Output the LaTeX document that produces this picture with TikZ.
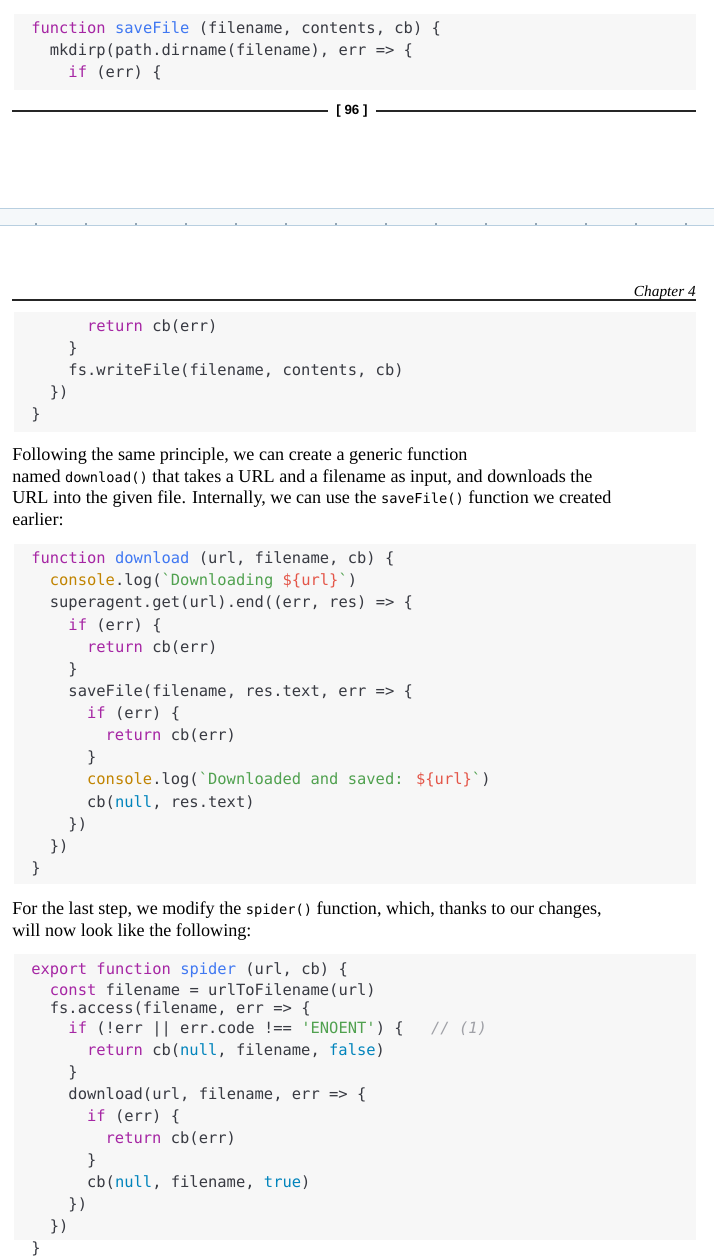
\documentclass[tikz,border=0pt]{standalone}
\usepackage{fontspec}
\setmainfont{Liberation Serif}
\newfontfamily\cf{DejaVu Sans Mono}
\newfontfamily\hf{Liberation Sans}
\definecolor{kw}{HTML}{A626A4}
\definecolor{fn}{HTML}{4078F2}
\definecolor{st}{HTML}{50A14F}
\definecolor{vr}{HTML}{E45649}
\definecolor{cn}{HTML}{C18401}
\definecolor{lt}{HTML}{0184BC}
\definecolor{cm}{HTML}{A0A1A7}
\definecolor{bg}{HTML}{F7F7F7}
\definecolor{tx}{HTML}{383A42}
\definecolor{band}{HTML}{F5F8FA}
\definecolor{bandline}{HTML}{B8CFE0}
\newcommand\K[1]{\textcolor{kw}{#1}}
\newcommand\F[1]{\textcolor{fn}{#1}}
\newcommand\Sg[1]{\textcolor{st}{#1}}
\newcommand\V[1]{\textcolor{vr}{#1}}
\newcommand\Cn[1]{\textcolor{cn}{#1}}
\newcommand\Lt[1]{\textcolor{lt}{#1}}
\newcommand\Cm[1]{\textcolor{cm}{\itshape #1}}
\newcommand\cd[1]{{\cf\fontsize{10.3pt}{12pt}\selectfont #1}}
\newcommand\TQ{\char`\`}
\begin{document}
\begin{tikzpicture}[x=0.75pt,y=-0.75pt,
  code/.style={anchor=base west,inner sep=0pt,text=tx,font=\cf\fontsize{11.6pt}{14pt}\selectfont},
  para/.style={anchor=base west,inner sep=0pt,font=\fontsize{13.6pt}{16pt}\selectfont},
  rule/.style={line width=0.8pt,black!85}]
\useasboundingbox (0,0) rectangle (714,1256);
\newcommand\CL[4]{\node[code] (#1) at ({31+#2*9.3},{#3+5}) {#4};}
% block 1
\fill[bg] (14,14) rectangle (696,90);
\CL{a1}{0}{29}{\K{function} \F{saveFile} (filename, contents, cb) \{}
\CL{a2}{2}{51}{mkdirp(path.dirname(filename), err => \{}
\CL{a3}{4}{73}{\K{if} (err) \{}
% footer
\node[inner sep=0pt,font=\hf\bfseries\fontsize{10pt}{12pt}\selectfont] (pg) at (352,111) {[ 96 ]};
\draw[rule] (12,111) -- ([xshift=-6]pg.west);
\draw[rule] ([xshift=6]pg.east) -- (696,111);
% page break band
\fill[band] (0,208) rectangle (714,225);
\draw[bandline,line width=0.6pt] (0,208) -- (714,208);
\draw[bandline,line width=0.6pt] (0,225) -- (714,225);
\foreach \i in {0,...,13} \draw[bandline!80!black,line width=0.8pt] ({35+\i*50},224) -- ({37+\i*50},224);
% header
\node[anchor=base east,inner sep=0pt,font=\itshape\fontsize{11.5pt}{14pt}\selectfont] (ch) at (696,296) {Chapter 4};
\draw[rule] (12,300) -- (696,300);
% block 2
\fill[bg] (14,312) rectangle (696,432);
\CL{b1}{6}{326}{\K{return} cb(err)}
\CL{b2}{4}{348}{\}}
\CL{b3}{4}{370}{fs.writeFile(filename, contents, cb)}
\CL{b4}{2}{392}{\})}
\CL{b5}{0}{414}{\}}
% paragraph 1
\node[para] (p1) at (12,460) {Following the same principle, we can create a generic function};
\node[para] (p2) at (12,482) {named \cd{download()} that takes a URL and a filename as input, and downloads the};
\node[para] (p3) at (12,503) {URL into the given file. Internally, we can use the \cd{saveFile()} function we created};
\node[para] (p4) at (12,525) {earlier:};
% block 3
\fill[bg] (14,544) rectangle (696,884);
\CL{c1}{0}{558}{\K{function} \F{download} (url, filename, cb) \{}
\CL{c2}{2}{580}{\Cn{console}.log(\Sg{\TQ Downloading }\V{\$\{url\}}\Sg{\TQ})}
\CL{c3}{2}{602}{superagent.get(url).end((err, res) => \{}
\CL{c4}{4}{625}{\K{if} (err) \{}
\CL{c5}{6}{647}{\K{return} cb(err)}
\CL{c6}{4}{669}{\}}
\CL{c7}{4}{691}{saveFile(filename, res.text, err => \{}
\CL{c8}{6}{713}{\K{if} (err) \{}
\CL{c9}{8}{735}{\K{return} cb(err)}
\CL{c10}{6}{757}{\}}
\CL{c11}{6}{779}{\Cn{console}.log(\Sg{\TQ Downloaded and saved: }\V{\$\{url\}}\Sg{\TQ})}
\CL{c12}{6}{802}{cb(\Lt{null}, res.text)}
\CL{c13}{4}{824}{\})}
\CL{c14}{2}{846}{\})}
\CL{c15}{0}{868}{\}}
% paragraph 2
\node[para] (q1) at (12,914) {For the last step, we modify the \cd{spider()} function, which, thanks to our changes,};
\node[para] (q2) at (12,936) {will now look like the following:};
% block 4
\fill[bg] (14,954) rectangle (696,1240);
\CL{d1}{0}{969}{\K{export} \K{function} \F{spider} (url, cb) \{}
\CL{d2}{2}{990}{\K{const} filename = urlToFilename(url)}
\CL{d3}{2}{1008}{fs.access(filename, err => \{}
\CL{d4}{4}{1028}{\K{if} (!err || err.code !== \Sg{'ENOENT'}) \{}
\CL{d4c}{43}{1028}{\Cm{// (1)}}
\CL{d5}{6}{1050}{\K{return} cb(\Lt{null}, filename, \Lt{false})}
\CL{d6}{4}{1072}{\}}
\CL{d7}{4}{1094}{download(url, filename, err => \{}
\CL{d8}{6}{1116}{\K{if} (err) \{}
\CL{d9}{8}{1138}{\K{return} cb(err)}
\CL{d10}{6}{1160}{\}}
\CL{d11}{6}{1182}{cb(\Lt{null}, filename, \Lt{true})}
\CL{d12}{4}{1204}{\})}
\CL{d13}{2}{1226}{\})}
\CL{d14}{0}{1248}{\}}
\end{tikzpicture}
\end{document}
